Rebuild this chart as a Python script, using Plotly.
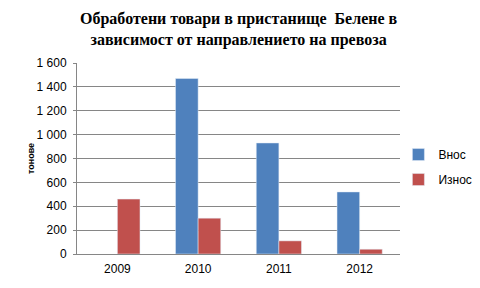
import plotly.graph_objects as go

years = ["2009", "2010", "2011", "2012"]
vnos = [None, 1470, 930, 520]
iznos = [460, 300, 110, 40]
tick_vals = [0, 200, 400, 600, 800, 1000, 1200, 1400, 1600]
tick_text = ["0", "200", "400", "600", "800", "1 000", "1 200", "1 400", "1 600"]

fig = go.Figure()
fig.add_trace(go.Bar(name="Внос", x=years, y=vnos, marker_color="#4F81BD", legendgroup="a"))
fig.add_trace(go.Bar(name="Износ", x=years, y=iznos, marker_color="#C0504D", legendgroup="b"))

fig.add_annotation(
    text="<b>Обработени товари в пристанище  Белене в<br>зависимост от направлението на превоза</b>",
    xref="paper", yref="paper", x=0.5, y=1.29, xanchor="center", yanchor="top",
    showarrow=False, align="center",
    font=dict(family="Liberation Serif", size=16, color="#000000"),
)

fig.update_layout(
    width=480, height=288,
    margin=dict(l=77, r=80, t=63, b=34, autoexpand=False),
    paper_bgcolor="white", plot_bgcolor="white",
    barmode="group", bargap=0.44, bargroupgap=0,
    font=dict(family="Liberation Sans", size=12, color="#000000"),
    showlegend=True,
    legend=dict(xref="container", yref="container", x=0.83, xanchor="left", y=0.42, yanchor="middle",
                font=dict(size=12, color="#000000"),
                traceorder="grouped", tracegroupgap=6,
                bgcolor="rgba(0,0,0,0)"),
    xaxis=dict(showgrid=False, showline=True, linecolor="#868686", linewidth=1,
               ticks="", ticklabelstandoff=4, tickfont=dict(size=12, color="#000000")),
    yaxis=dict(range=[0, 1600], tickvals=tick_vals, ticktext=tick_text,
               showgrid=True, gridcolor="#868686", gridwidth=1,
               showline=True, linecolor="#868686", linewidth=1,
               ticks="outside", ticklen=3, tickcolor="#868686", ticklabelstandoff=4,
               tickfont=dict(size=12, color="#000000"), zeroline=False,
               title=dict(text="тонове", font=dict(size=9, color="#000000", weight="bold"), standoff=0)),
)

fig.write_html("out.html")
